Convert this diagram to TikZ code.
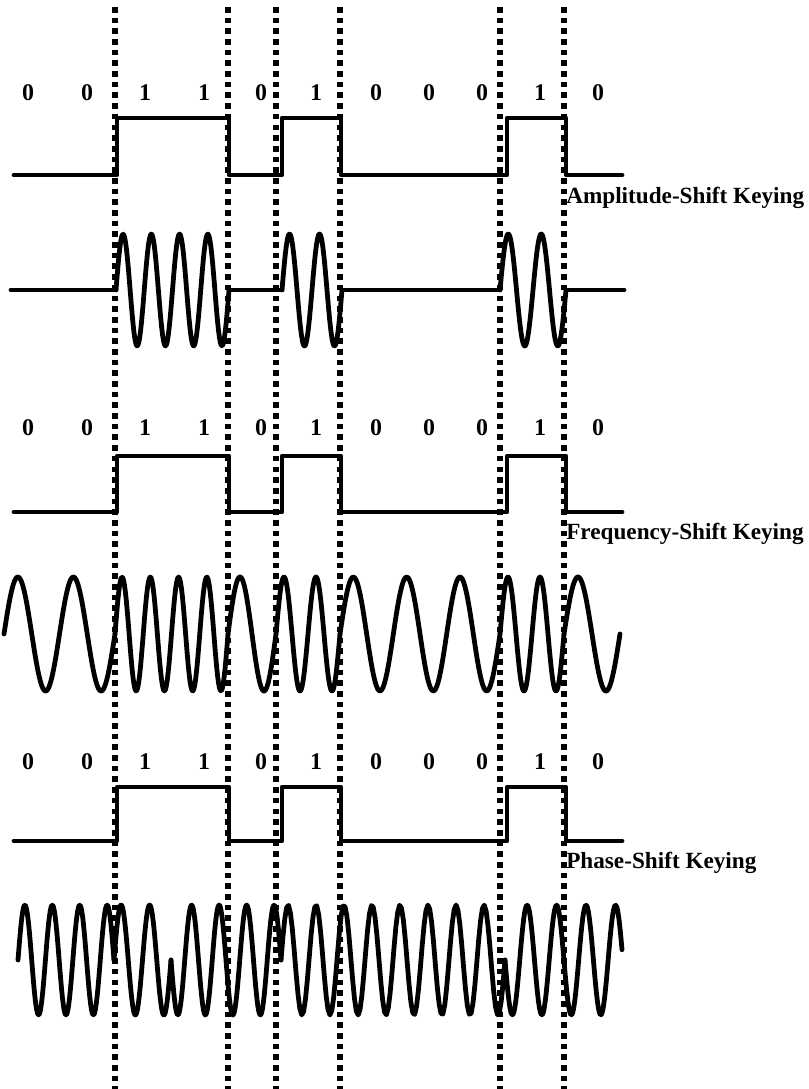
\documentclass[tikz,border=0pt]{standalone}
\usepackage{fontspec}
\setmainfont{Liberation Serif}
\usepackage{tikz}
\usetikzlibrary{positioning}

\tikzset{
  signal/.style={line width=3.4pt, line cap=round, line join=round},
  divider/.style={line width=3.8pt, dash pattern=on 4pt off 3.6pt},
  bitlabel/.style={font=\fontsize{17}{19}\selectfont\bfseries, inner sep=0pt},
  keylabel/.style={font=\fontsize{16.5}{19}\selectfont\bfseries, anchor=west, inner sep=0pt}
}

% carrier piece: from, to, cycles, centre, signed amplitude
\newcommand{\carrier}[5]{%
  \draw[signal] plot[domain=#1:#2, samples=120] (\x, {#4 - (#5)*sin(360*#3/(#2-#1)*(\x-#1))});}
% data signal 0011010001 0: low level, high level
\newcommand{\bitstream}[2]{%
  \draw[signal] (14,#1) -- (117,#1) -- (117,#2) -- (229,#2) -- (229,#1) -- (282,#1) -- (282,#2)
    -- (341,#2) -- (341,#1) -- (507,#1) -- (507,#2) -- (566,#2) -- (566,#1) -- (622,#1);}

\begin{document}
\begin{tikzpicture}[x=0.025cm, y=-0.025cm]
  \useasboundingbox (0,0) rectangle (808,1089);

  % bit boundaries
  \foreach \t in {115,228,276,340,500,564}
    \draw[divider] (\t,7) -- (\t,1089);

  % bit values over each data signal
  \foreach \px/\b [count=\i] in {28/0,87/0,145/1,204/1,261/0,316/1,376/0,429/0,482/0,540/1,598/0} {
    \node[bitlabel] (askbit\i) at (\px,93) {\b};
    \node[bitlabel] (fskbit\i) at (\px,428) {\b};
    \node[bitlabel] (pskbit\i) at (\px,762) {\b};
  }

  % amplitude-shift keying
  \bitstream{175}{118}
  \node[keylabel] (askname) at (566,198) {Amplitude-Shift Keying};
  \draw[signal] (11,290) -- (116,290);
  \carrier{116}{229}{4}{290}{56}
  \draw[signal] (229,290) -- (282,290);
  \carrier{282}{342}{2}{290}{56}
  \draw[signal] (342,290) -- (500,290);
  \carrier{500}{566}{2}{290}{56}
  \draw[signal] (566,290) -- (624,290);

  % frequency-shift keying
  \bitstream{512}{456}
  \node[keylabel] (fskname) at (566,534) {Frequency-Shift Keying};
  \carrier{4}{115}{2}{634}{57}
  \carrier{115}{228}{4}{634}{57}
  \carrier{228}{276}{1}{634}{57}
  \carrier{276}{340}{2}{634}{57}
  \carrier{340}{500}{3}{634}{57}
  \carrier{500}{564}{2}{634}{57}
  \carrier{564}{620}{1}{634}{57}

  % phase-shift keying
  \bitstream{841}{787}
  \node[keylabel] (pskname) at (566,863) {Phase-Shift Keying};
  \carrier{18}{114}{3.5}{960}{55}
  \carrier{114}{171}{2}{960}{55}
  \carrier{171}{281}{4}{960}{-55}
  \carrier{281}{505}{8}{960}{55}
  \carrier{505}{622}{3.97}{960}{-55}
\end{tikzpicture}
\end{document}
